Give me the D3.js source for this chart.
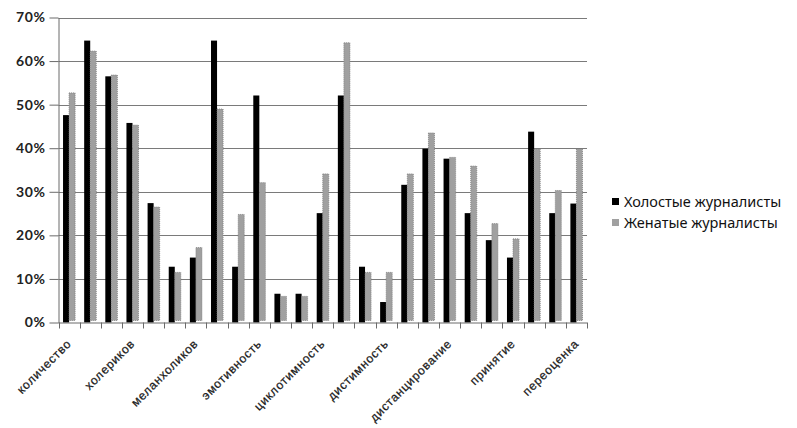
<!DOCTYPE html>
<html>
<head>
<meta charset="utf-8">
<script src="https://cdn.jsdelivr.net/npm/d3@7"></script>
<style>
  body { margin: 0; background: #fff; }
  svg { display: block; }
</style>
</head>
<body>
<div class="chart"></div>
<script>
// подписи видны только у каждой третьей категории
const categories = [
    'количество', '', '',
    'холериков', '', '',
    'меланхоликов', '', '',
    'эмотивность', '', '',
    'циклотимность', '', '',
    'дистимность', '', '',
    'дистанцирование', '', '',
    'принятие', '', '',
    'переоценка'
];
const seriesNames = ['Холостые журналисты', 'Женатые журналисты'];
const single = [47.6, 64.7, 56.5, 45.8, 27.4, 12.8, 14.9, 64.7, 12.8, 52.1, 6.6, 6.6, 25.1,
    52.1, 12.8, 4.7, 31.6, 39.9, 37.6, 25.1, 18.9, 14.9, 43.8, 25.1, 27.3];
const married = [52.7, 62.3, 56.8, 45.3, 26.5, 11.5, 17.2, 49.0, 24.8, 32.1, 6.0, 6.0, 34.1,
    64.2, 11.5, 11.5, 34.1, 43.5, 37.9, 35.9, 22.7, 19.2, 39.8, 30.3, 39.8];
const yTicks = [0, 10, 20, 30, 40, 50, 60, 70];

const colors = ['#000000', '#a0a0a0'];
const W = 797, H = 428;
const mLeft = 58.5, mRight = 587, mTop = 17.5, mBottom = 322.5;

const svg = d3.select('.chart')
    .append('svg')
        .attr('width', W)
        .attr('height', H);

const x = d3.scaleBand()
    .domain(d3.range(categories.length))
    .range([mLeft, mRight]);

const xInner = d3.scaleBand()
    .domain([0, 1])
    .range([0, x.bandwidth()])
    .paddingOuter(0.75)
    .paddingInner(0);

const y = d3.scaleLinear()
    .domain([0, 70])
    .range([mBottom, mTop]);

// сетка
svg.append('g')
    .selectAll('line')
    .data(yTicks.slice(1))
    .enter()
        .append('line')
        .attr('x1', mLeft)
        .attr('x2', mRight)
        .attr('y1', d => Math.round(y(d)) + 0.5)
        .attr('y2', d => Math.round(y(d)) + 0.5)
        .style('stroke', '#7a7a7a')
        .style('stroke-width', 1);

// столбцы
const groups = svg.append('g')
    .selectAll('g')
    .data(categories.map((c, i) => [single[i], married[i]]))
    .enter()
        .append('g')
        .attr('transform', (d, i) => `translate(${x(i)},0)`);

groups.selectAll('rect')
    .data(d => d)
    .enter()
        .append('rect')
        .attr('x', (d, j) => xInner(j))
        .attr('width', xInner.bandwidth())
        .attr('y', d => y(d))
        .attr('height', (d, j) => y(0) - y(d) - (j === 1 ? 2 : 0))
        .style('fill', (d, j) => colors[j])
        .style('stroke', (d, j) => j === 1 ? '#7c7c7c' : 'none')
        .style('stroke-width', 0.8)
        .style('stroke-dasharray', '1,1');

// ось Y
const yAxis = svg.append('g')
    .attr('transform', `translate(${mLeft},0)`)
    .call(d3.axisLeft(y).tickValues(yTicks).tickSize(9).tickSizeOuter(0).tickPadding(4)
        .tickFormat(d => d + '%'));
yAxis.select('.domain').style('stroke', '#6a6a6a');
yAxis.selectAll('.tick line').style('stroke', '#6a6a6a');
yAxis.selectAll('.tick text')
    .style('font-family', 'Lato, sans-serif')
    .style('font-weight', 'bold')
    .style('font-size', '14px')
    .style('letter-spacing', '0.6px')
    .style('fill', '#222');

// ось X
const xAxis = svg.append('g')
    .attr('transform', `translate(0,${mBottom})`)
    .call(d3.axisBottom(x).tickValues([]).tickSizeOuter(0));
xAxis.select('.domain').attr('d', `M${mLeft},0.5H${mRight}`).style('stroke', '#6a6a6a');

xAxis.selectAll('.bt')
    .data(d3.range(categories.length + 1))
    .enter()
        .append('line')
        .attr('x1', i => Math.round(mLeft + i * x.step()) + 0.5)
        .attr('x2', i => Math.round(mLeft + i * x.step()) + 0.5)
        .attr('y1', 0)
        .attr('y2', 6)
        .style('stroke', '#6a6a6a');

svg.append('g')
    .selectAll('text')
    .data(categories.map((c, i) => ({ c, i })).filter(d => d.c))
    .enter()
        .append('text')
        .attr('transform', d => `translate(${x(d.i) + x.bandwidth() / 2 + 3},${mBottom + 22}) rotate(-45)`)
        .attr('text-anchor', 'end')
        .style('font-family', 'Liberation Sans, Arial, sans-serif')
        .style('font-size', '12px')
        .style('letter-spacing', '0.8px')
        .style('stroke', '#1a1a1a')
        .style('stroke-width', 0.25)
        .style('fill', '#1a1a1a')
        .text(d => d.c);

// легенда
const legend = svg.append('g')
    .selectAll('g')
    .data(seriesNames)
    .enter()
        .append('g')
        .attr('transform', (d, i) => `translate(612,${198 + i * 21})`);

legend.append('rect')
    .attr('width', 7)
    .attr('height', 7)
    .style('fill', (d, i) => colors[i]);

legend.append('text')
    .attr('x', 12)
    .attr('y', 8.5)
    .style('font-family', 'Noto Sans, sans-serif')
    .style('font-size', '14.5px')
    .style('fill', '#111')
    .text(d => d);
</script>
</body>
</html>
